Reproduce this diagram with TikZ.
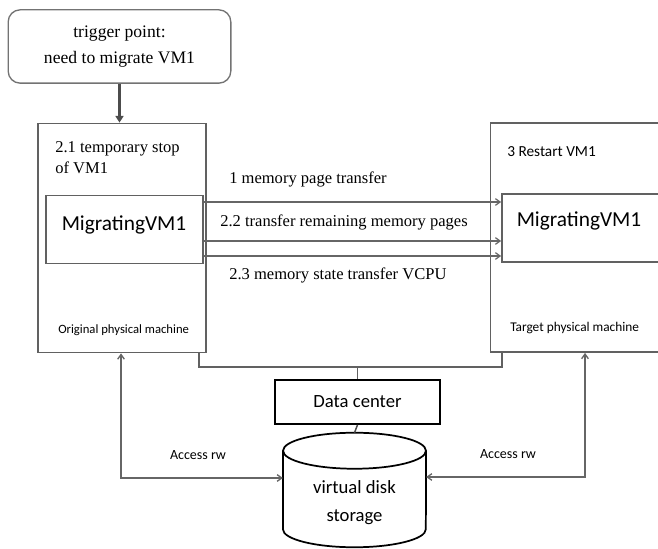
\documentclass[tikz,border=0pt]{standalone}
\usepackage{fontspec}
\setmainfont{Liberation Serif}
\newfontfamily\carlito{Carlito}
\usetikzlibrary{arrows.meta}

\begin{document}
\begin{tikzpicture}[x=0.75pt, y=-0.75pt,
    machine/.style={draw=black!62, line width=1.1pt, minimum width=126pt, minimum height=172pt},
    vmbox/.style={draw=black!62, line width=1.1pt, minimum width=118pt, minimum height=51pt},
    serif/.style={font=\fontsize{12.4}{16}\selectfont, inner sep=0pt, align=left},
    sans/.style={font=\carlito\fontsize{10}{12}\selectfont, inner sep=0pt},
    xfer/.style={draw=black!60, line width=0.9pt, -{Straight Barb[length=3.5pt,width=5pt]}},
    access/.style={draw=black!60, line width=1pt, {Straight Barb[length=3.5pt,width=5pt]}-{Straight Barb[length=3.5pt,width=5pt]}},
    link/.style={draw=black!62, line width=1.1pt},
    diskline/.style={draw=black, line width=1.3pt}]
    \useasboundingbox (0,0) rectangle (658,549);
    \clip (0,0) rectangle (658,549);

    % Ausloeser
    \node[draw=black!55, line width=1pt, rounded corners=9pt, minimum width=167pt, minimum height=55pt,
          align=center, font=\fontsize{13.2}{20}\selectfont] (trigger) at (119.5,46.5)
          {trigger point:\\need to migrate VM1};

    % Quellrechner
    \node[machine] (orig) at (122,238) {};
    \node[vmbox] (vml) at (124.5,229.5) {};
    \node[anchor=base, font=\carlito\fontsize{16}{18}\selectfont, inner sep=0pt] (vmltext) at (124,231) {MigratingVM1};
    \node[serif, anchor=west, font=\fontsize{12.4}{16}\selectfont] (stop) at (55,157.5) {2.1 temporary stop\\of VM1};
    \node[sans, anchor=west, font=\carlito\fontsize{9.5}{12}\selectfont] (orignote) at (58,330) {Original physical machine};

    % Zielrechner
    \node[machine, minimum width=131pt] (target) at (578,237.5) {};
    \node[vmbox] (vmr) at (580.5,228) {};
    \node[anchor=base, font=\carlito\fontsize{16}{18}\selectfont, inner sep=0pt] (vmrtext) at (579,227) {MigratingVM1};
    \node[sans, anchor=west, font=\carlito\fontsize{11.5}{14}\selectfont] (restart) at (507,152) {3 Restart VM1};
    \node[sans, anchor=west] (targetnote) at (510,328) {Target physical machine};

    \draw[draw=black!70, line width=1.8pt, -{Triangle[length=5pt,width=6pt]}] (trigger.south) -- (trigger.south |- orig.north);

    % Uebertragungen
    \coordinate (ya) at (0,202);
    \coordinate (yb) at (0,241);
    \coordinate (yc) at (0,256);
    \draw[xfer] (vml.east |- ya) -- (vmr.west |- ya);
    \draw[xfer] (vml.east |- yb) -- (vmr.west |- yb);
    \draw[xfer] (vml.east |- yc) -- (vmr.west |- yc);
    \node[serif, anchor=west] (step1) at (229,179) {1 memory page transfer};
    \node[serif, anchor=west] (step22) at (220,222) {2.2 transfer remaining memory pages};
    \node[serif, anchor=west] (step23) at (229,275) {2.3 memory state transfer VCPU};

    % Rechenzentrum und Speicher
    \node[draw=black, line width=1.3pt, minimum width=123.75pt, minimum height=33pt,
          font=\carlito\fontsize{14}{16}\selectfont] (dc) at (357.5,402) {Data center};
    \node[minimum width=107pt, minimum height=85.5pt, inner sep=0pt] (disk) at (354.5,490) {};
    \draw[diskline] (disk.north) ++(0,18) ellipse [x radius=53.6pt, y radius=13.5pt];
    \draw[diskline] (disk.north west) ++(0,18) -- ([yshift=13.5pt]disk.south west)
        arc [start angle=180, end angle=360, x radius=53.6pt, y radius=13.5pt]
        -- ([yshift=-13.5pt]disk.north east);
    \node[align=center, inner sep=0pt, font=\carlito\fontsize{14}{21}\selectfont] (disktext) at (354.5,503) {virtual disk\\storage};

    \coordinate (busl) at (199,367);
    \coordinate (busr) at (502,367);
    \draw[link] (busl |- orig.south) -- (busl) -- (busr) -- (busr |- target.south);
    \draw[link] (dc.north) -- (dc.north |- busl);
    \draw[draw=black!70, line width=1.1pt] (dc.south) -- (disk.north);

    % Zugriffe
    \coordinate (accl) at (121,478);
    \coordinate (accr) at (585,477);
    \draw[access] (accl |- orig.south) -- (accl) -- (accl -| disk.west);
    \draw[access] (accr |- target.south) -- (accr) -- (accr -| disk.east);
    \node[sans, font=\carlito\fontsize{10.5}{12}\selectfont] (accltext) at (198,455) {Access rw};
    \node[sans, font=\carlito\fontsize{10.5}{12}\selectfont] (accrtext) at (508,454) {Access rw};
\end{tikzpicture}
\end{document}
